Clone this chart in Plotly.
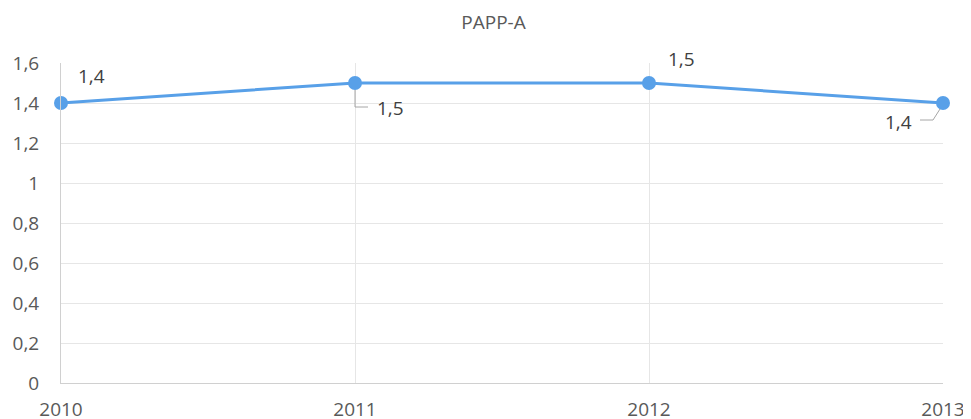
import plotly.graph_objects as go

years = [2010, 2011, 2012, 2013]
values = [1.4, 1.5, 1.5, 1.4]
value_labels = ["1,4", "1,5", "1,5", "1,4"]
y_ticks = [0, 0.2, 0.4, 0.6, 0.8, 1.0, 1.2, 1.4, 1.6]
y_tick_text = ["0", "0,2", "0,4", "0,6", "0,8", "1", "1,2", "1,4", "1,6"]
title = "PAPP-A"

# label offsets (pixels) relative to each point
label_dx = [30, 35, 32, -45]
label_dy = [-27, 25, -24, 19]

line_color = "#58a0e8"
text_color = "#595959"
grid_color = "#e6e6e6"
axis_color = "#d0d0d0"
font_family = "Open Sans, Noto Sans, sans-serif"

fig = go.Figure()
fig.add_trace(go.Scatter(
    x=years, y=values, mode="lines+markers",
    line=dict(color=line_color, width=3),
    marker=dict(color=line_color, size=14),
    hoverinfo="skip", showlegend=False, cliponaxis=False,
))

for x, y, t, dx, dy in zip(years, values, value_labels, label_dx, label_dy):
    fig.add_annotation(x=x, y=y, text=t, showarrow=True, arrowcolor="rgba(0,0,0,0)",
                       ax=dx, ay=dy, font=dict(size=19, color="#404040", family=font_family))

# leader lines (elbow) for 2011 and 2013 labels
fig.add_shape(type="path", xref="x", yref="y", xsizemode="pixel", ysizemode="pixel",
              xanchor=years[1], yanchor=values[1],
              path="M0,-7 L0,-24 L13,-24", line=dict(color="#a6a6a6", width=1))
fig.add_shape(type="path", xref="x", yref="y", xsizemode="pixel", ysizemode="pixel",
              xanchor=years[3], yanchor=values[3],
              path="M-3,-6 L-10,-17 L-23,-17", line=dict(color="#a6a6a6", width=1))

# the page places the figure 8px from the window's top-left corner
fig.update_layout(
    width=971, height=419,
    margin=dict(l=53, r=36, t=55, b=44, autoexpand=False),
    paper_bgcolor="white", plot_bgcolor="white",
    title=dict(text=title, x=0.5, xanchor="center", y=0.965, yanchor="middle",
               font=dict(size=19, color=text_color, family=font_family)),
    font=dict(family=font_family, color=text_color),
)
fig.update_xaxes(range=[years[0], years[-1]], tickvals=years, ticktext=[str(y) for y in years],
                 showgrid=True, gridcolor=grid_color, gridwidth=1,
                 showline=True, linecolor=axis_color, linewidth=1,
                 zeroline=False, ticks="", ticklabelstandoff=9, automargin=False,
                 tickfont=dict(size=19, color=text_color, family=font_family))
fig.update_yaxes(range=[0, 1.6], tickvals=y_ticks, ticktext=y_tick_text,
                 showgrid=True, gridcolor=grid_color, gridwidth=1,
                 showline=True, linecolor=axis_color, linewidth=1,
                 zeroline=False, ticks="", ticklabelstandoff=17, automargin=False,
                 tickfont=dict(size=19, color=text_color, family=font_family))

fig.write_html("out.html")
